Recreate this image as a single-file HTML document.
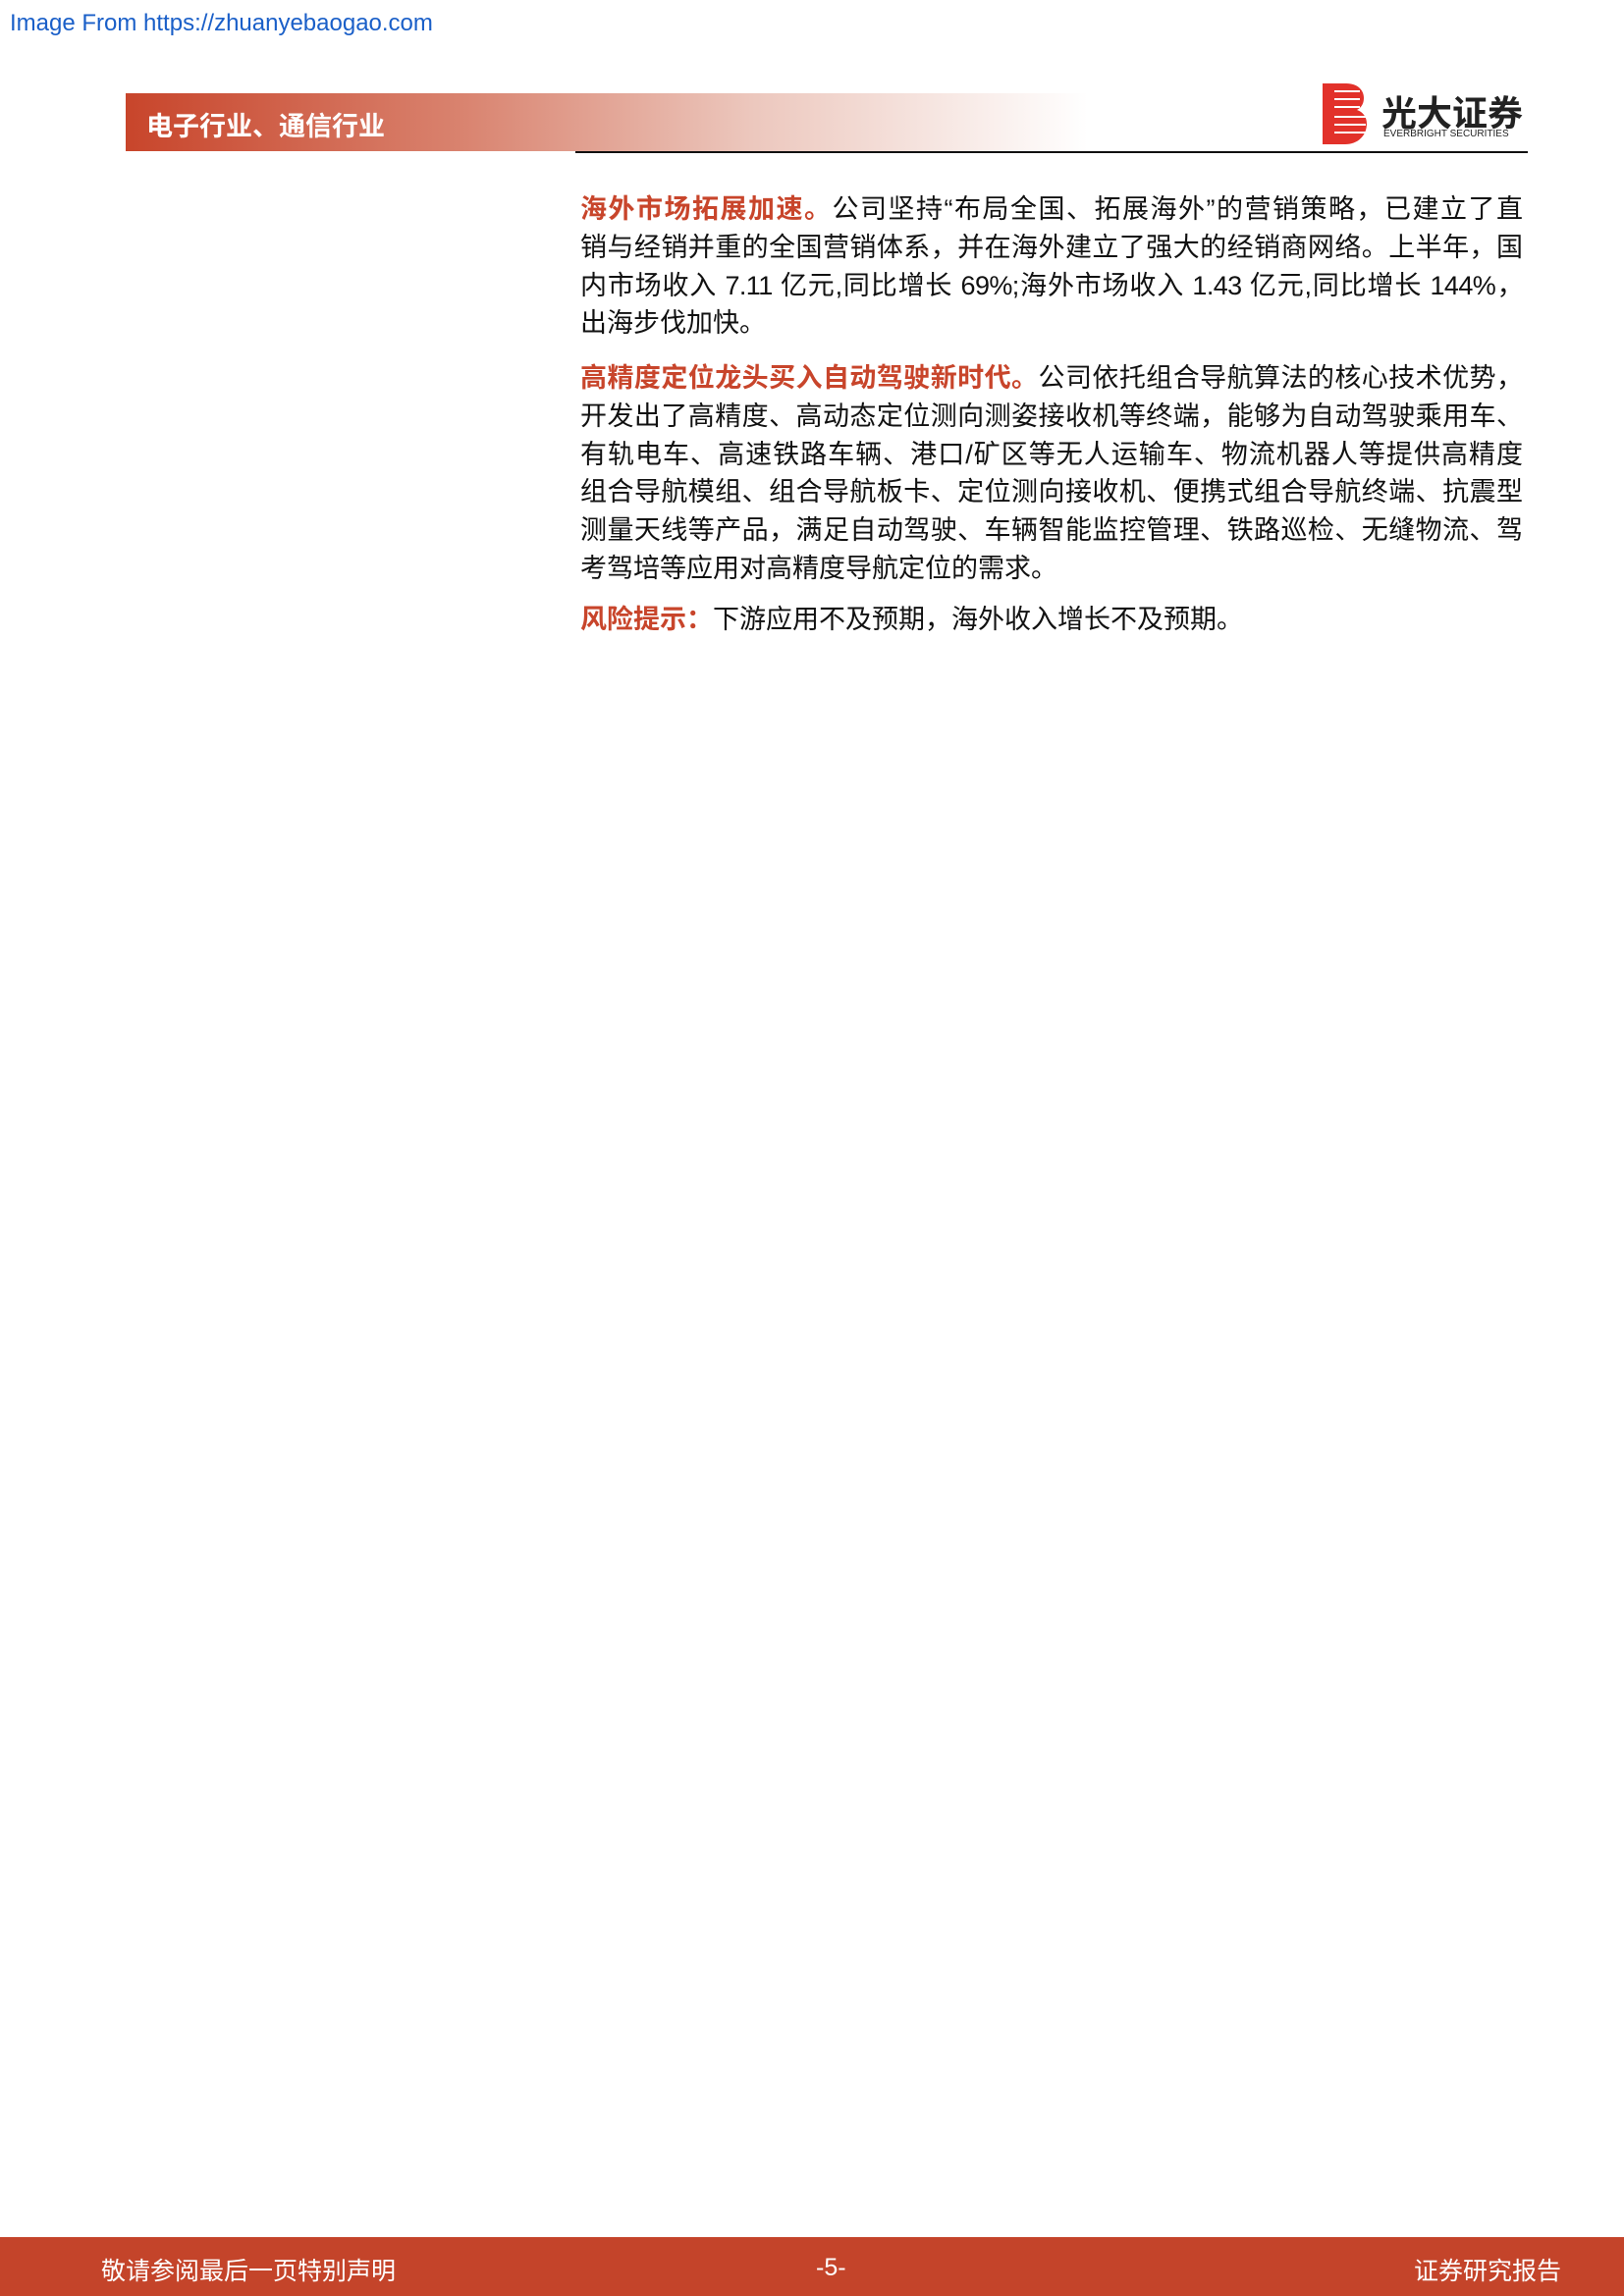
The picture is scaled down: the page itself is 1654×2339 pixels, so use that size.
<!DOCTYPE html>
<html><head><meta charset="utf-8">
<style>
body{margin:0;width:1654px;height:2339px;position:relative;background:#fff;font-family:"Liberation Sans","Noto Sans CJK SC",sans-serif;overflow:hidden}
.abs{position:absolute}
.src{left:10px;top:10px;font-size:24px;color:#1a5fc8;font-family:"Liberation Sans",sans-serif}
.hdr{left:128px;top:95px;width:980px;height:59px;background:linear-gradient(90deg,#c8452b 0%,#d9836f 35%,#ecc7bd 65%,#fff 100%)}
.hdr span{position:absolute;left:21px;top:12px;font-size:27px;color:#fff;font-weight:bold}
.rule{left:586px;top:154px;width:970px;height:2px;background:#111}
.logo{left:1345px;top:85px;width:215px;height:62px;white-space:nowrap}
.body{left:591px;width:960px;font-size:27px;color:#111;line-height:38.8px}
.l{display:block;text-align:justify;text-align-last:justify;height:38.8px;overflow:hidden}
.last{text-align-last:left}
.red{color:#c8452b;font-weight:bold}
.foot{left:0;top:2279px;width:1654px;height:60px;background:#c4442a;color:#fff;font-size:25px}
.foot span{position:absolute;top:15px}
</style></head><body>
<div class="abs src">Image From https://zhuanyebaogao.com</div>
<div class="abs hdr"><span>电子行业、通信行业</span></div>
<div class="abs rule"></div>
<div class="abs logo">
<svg width="50" height="62" viewBox="0 0 50 62"><path d="M2 0h24c12 0 18 7 18 15 0 6-3 10-7 12 6 2 10 7 10 14 0 12-9 21-22 21H2z" fill="#e2312a"/><g stroke="#fff" stroke-width="2"><line x1="14" y1="8" x2="40" y2="8"/><line x1="14" y1="16" x2="40" y2="16"/><line x1="14" y1="24" x2="40" y2="24"/><line x1="14" y1="34" x2="46" y2="34"/><line x1="14" y1="42" x2="46" y2="42"/><line x1="14" y1="50" x2="46" y2="50"/></g></svg>
<span class="abs" style="left:62px;top:2px;font-size:36px;font-weight:bold;color:#222">光大证券</span>
<span class="abs" style="left:64px;top:46px;font-size:10px;color:#222">EVERBRIGHT SECURITIES</span>
</div>
<div class="abs body" style="top:194px">
<span class="l"><span class="red">海外市场拓展加速。</span>公司坚持“布局全国、拓展海外”的营销策略，已建立了直</span>
<span class="l">销与经销并重的全国营销体系，并在海外建立了强大的经销商网络。上半年，国</span>
<span class="l" style="letter-spacing:-0.6px">内市场收入 7.11 亿元,同比增长 69%;海外市场收入 1.43 亿元,同比增长 144%，</span>
<span class="l last">出海步伐加快。</span>
</div>
<div class="abs body" style="top:366px">
<span class="l"><span class="red">高精度定位龙头买入自动驾驶新时代。</span>公司依托组合导航算法的核心技术优势，</span>
<span class="l">开发出了高精度、高动态定位测向测姿接收机等终端，能够为自动驾驶乘用车、</span>
<span class="l">有轨电车、高速铁路车辆、港口/矿区等无人运输车、物流机器人等提供高精度</span>
<span class="l">组合导航模组、组合导航板卡、定位测向接收机、便携式组合导航终端、抗震型</span>
<span class="l">测量天线等产品，满足自动驾驶、车辆智能监控管理、铁路巡检、无缝物流、驾</span>
<span class="l last">考驾培等应用对高精度导航定位的需求。</span>
</div>
<div class="abs body" style="top:612px">
<span class="l last"><span class="red">风险提示：</span>下游应用不及预期，海外收入增长不及预期。</span>
</div>
<div class="abs foot">
<span style="left:103px">敬请参阅最后一页特别声明</span>
<span style="left:831px;top:17px">-5-</span>
<span style="left:1440px">证券研究报告</span>
</div>
</body></html>
